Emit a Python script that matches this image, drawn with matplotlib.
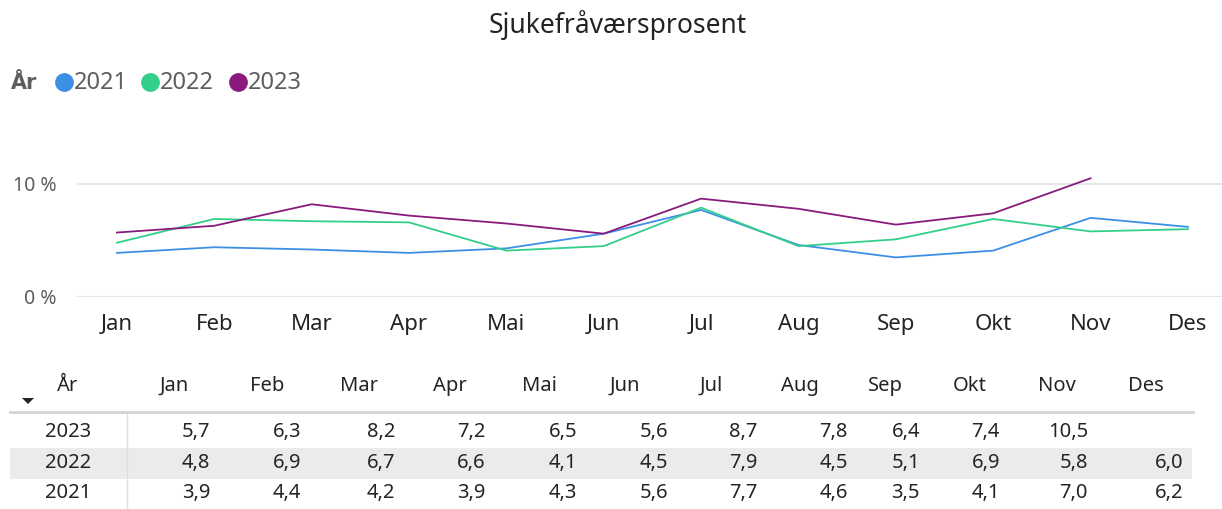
import numpy as np
import matplotlib.pyplot as plt
from matplotlib.patches import Rectangle, Polygon
from matplotlib.lines import Line2D

plt.rcParams['font.family'] = ['Noto Sans', 'DejaVu Sans']

months = ["Jan", "Feb", "Mar", "Apr", "Mai", "Jun", "Jul", "Aug", "Sep", "Okt", "Nov", "Des"]
years = ["2021", "2022", "2023"]
v2021 = [3.9, 4.4, 4.2, 3.9, 4.3, 5.6, 7.7, 4.6, 3.5, 4.1, 7.0, 6.2]
v2022 = [4.8, 6.9, 6.7, 6.6, 4.1, 4.5, 7.9, 4.5, 5.1, 6.9, 5.8, 6.0]
v2023 = [5.7, 6.3, 8.2, 7.2, 6.5, 5.6, 8.7, 7.8, 6.4, 7.4, 10.5, np.nan]
colors = {"2021": "#3d8fe6", "2022": "#33cf8a", "2023": "#8a1a7c"}

W, H = 1222, 509
fig = plt.figure(figsize=(W / 100, H / 100), dpi=100)


def fx(px):
    return px / W


def fy(py):
    return 1 - py / H


# Chart
ax = fig.add_axes([fx(77), fy(297), fx(1222 - 77), (297 - 150) / H])
x = np.arange(len(months))
series = {"2021": v2021, "2022": v2022, "2023": v2023}
for yr in years:
    ax.plot(x, series[yr], color=colors[yr], lw=1.3)
ax.set_xlim(-0.41, 11.35)
ax.set_ylim(0, 13)
ax.set_yticks([0, 10])
ax.set_yticklabels(["0 %", "10 %"], color="#605e5c", fontsize=14)
ax.set_xticks(x)
ax.set_xticklabels(months, fontsize=16, color="#252423")
ax.tick_params(length=0, axis="y", pad=15)
ax.tick_params(length=0, axis="x", pad=12)
ax.grid(axis="y", color="#e6e6e6", lw=1.5)
ax.set_axisbelow(True)
for s in ax.spines.values():
    s.set_visible(False)

# Title
fig.text(fx(618), fy(25), "Sjukefråværsprosent", ha="center", va="center",
         fontsize=19, color="#252423")

# Legend
fig.text(fx(11), fy(83), "År", ha="left", va="center", fontsize=15,
         fontweight="bold", family=["DejaVu Sans"], color="#605e5c")
leg_x = [64, 150, 238]
for yr, lx in zip(years, leg_x):
    fig.add_artist(Line2D([fx(lx)], [fy(82)], marker="o", markersize=12.5,
                          color=colors[yr], lw=0))
    fig.text(fx(lx + 10), fy(83), yr, ha="left", va="center", fontsize=17,
             color="#605e5c")

# Table
hdr_left = [160, 250, 340, 433, 522, 610, 700, 781, 868, 953, 1038, 1128]
val_right = [210, 301, 395, 485, 577, 668, 757, 848, 920, 1000, 1088, 1183]
row_y = {"2023": 432, "2022": 463, "2021": 493}

fig.add_artist(Rectangle((fx(10), fy(479)), fx(1192 - 10), 31 / H,
                         facecolor="#ebebeb", edgecolor="none"))
fig.add_artist(Line2D([fx(10), fx(1193)], [fy(412), fy(412)], color="#d6d2ce", lw=2))
fig.add_artist(Line2D([fx(127), fx(127)], [fy(413), fy(509)], color="#dddddd", lw=1))

tfs = 14.5
fig.text(fx(68), fy(386), "År", ha="center", va="center", fontsize=tfs, color="#252423")
fig.add_artist(Polygon([[fx(22), fy(398)], [fx(34), fy(398)], [fx(28), fy(404)]],
                       closed=True, facecolor="#252423", edgecolor="none"))
for m, hx in zip(months, hdr_left):
    fig.text(fx(hx), fy(386), m, ha="left", va="center", fontsize=tfs, color="#252423")

for yr in ["2023", "2022", "2021"]:
    fig.text(fx(68), fy(row_y[yr]), yr, ha="center", va="center", fontsize=tfs,
             color="#252423")
    for v, rx in zip(series[yr], val_right):
        if np.isnan(v):
            continue
        fig.text(fx(rx), fy(row_y[yr]), f"{v:.1f}".replace(".", ","), ha="right",
                 va="center", fontsize=tfs, color="#252423")

fig.savefig("out.png", dpi=100)
